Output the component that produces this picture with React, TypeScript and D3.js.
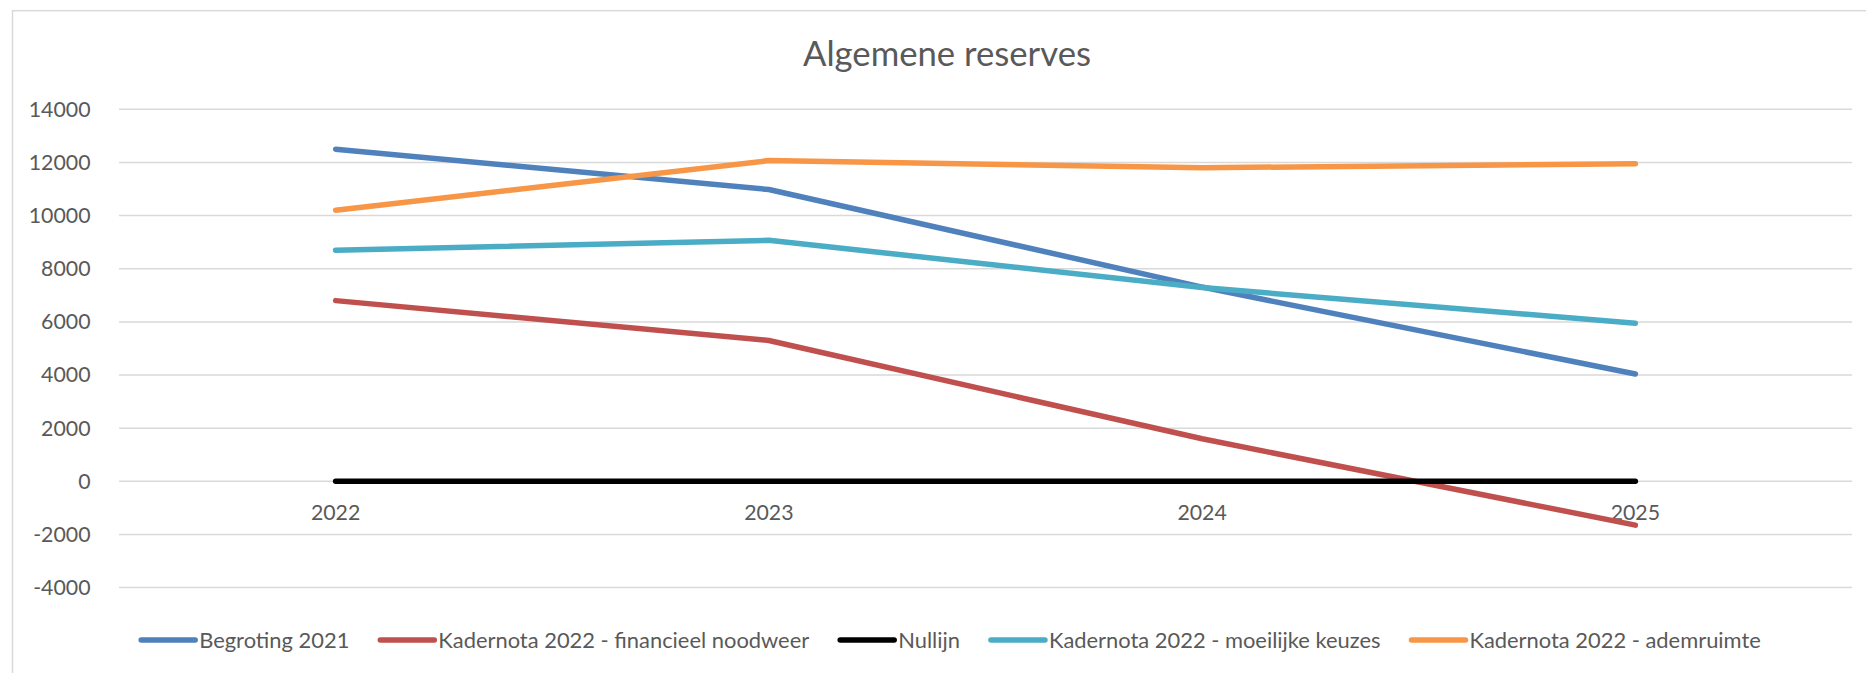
import React from "react";
import * as d3 from "d3";

const years = ["2022", "2023", "2024", "2025"];
const seriesNames = [
  "Begroting 2021",
  "Kadernota 2022 - financieel noodweer",
  "Nullijn",
  "Kadernota 2022 - moeilijke keuzes",
  "Kadernota 2022 - ademruimte",
];
const begroting2021 = [12500, 10980, 7310, 4040];
const noodweer = [6800, 5300, 1600, -1650];
const nullijn = [0, 0, 0, 0];
const moeilijkeKeuzes = [8700, 9070, 7290, 5950];
const ademruimte = [10200, 12070, 11800, 11950];
const yTicks = [-4000, -2000, 0, 2000, 4000, 6000, 8000, 10000, 12000, 14000];
const colors = ["#4F81BD", "#C0504D", "#000000", "#4BACC6", "#F79646"];
const title = "Algemene reserves";

const W = 1866;
const H = 673;
const FONT = "Lato, 'Open Sans', sans-serif";
const TEXT = "#595959";

function measure(text: string, size: number): number {
  const c = document.createElement("canvas");
  const ctx = c.getContext("2d");
  if (!ctx) return text.length * size * 0.5;
  ctx.font = `${size}px Lato`;
  return ctx.measureText(text).width;
}

export default function App() {
  const allSeries = [begroting2021, noodweer, nullijn, moeilijkeKeuzes, ademruimte];
  const plotLeft = 119;
  const plotRight = 1852;
  const x = d3.scaleBand<string>().domain(years).range([plotLeft, plotRight]).padding(0);
  const cx = (yr: string) => (x(yr) as number) + x.bandwidth() / 2;
  const y = d3.scaleLinear().domain([-4000, 14000]).range([587.6, 109.3]);
  const line = d3
    .line<number>()
    .x((_, i) => cx(years[i]))
    .y((d) => y(d));

  const tickSize = 21.3;
  const legendSize = 21.9;
  const swatch = 54;
  const swGap = 4;
  const itemGap = 31;
  const widths = seriesNames.map((n) => measure(n, legendSize));
  const total =
    widths.reduce((a, b) => a + b, 0) + seriesNames.length * (swatch + swGap) + itemGap * (seriesNames.length - 1);
  let lx = 951 - total / 2;
  const legendItems = seriesNames.map((n, i) => {
    const item = { name: n, x: lx, color: colors[i] };
    lx += swatch + swGap + widths[i] + itemGap;
    return item;
  });
  const legendY = 640;

  return (
    <svg
      width={W}
      height={H}
      style={{ position: "absolute", left: 0, top: 0, background: "#fff" }}
      fontFamily={FONT}
    >
      <rect x={0} y={0} width={W} height={H} fill="#fff" />
      <rect x={12.5} y={10.7} width={1870} height={680} fill="#fff" stroke="#D9D9D9" strokeWidth={1.5} />
      <text x={947} y={66} textAnchor="middle" fontSize={34.7} fill={TEXT}>
        {title}
      </text>
      {yTicks.map((t) => (
        <g key={t}>
          <line x1={plotLeft} x2={plotRight} y1={y(t)} y2={y(t)} stroke="#D9D9D9" strokeWidth={1.5} />
          <text x={90.5} y={y(t)} dy="0.35em" textAnchor="end" fontSize={tickSize} fill={TEXT}>
            {t}
          </text>
        </g>
      ))}
      {years.map((yr) => (
        <text key={yr} x={cx(yr)} y={y(0)} dy={39} textAnchor="middle" fontSize={tickSize} fill={TEXT}>
          {yr}
        </text>
      ))}
      {allSeries.map((s, i) => (
        <path
          key={seriesNames[i]}
          d={line(s) || ""}
          fill="none"
          stroke={colors[i]}
          strokeWidth={5.5}
          strokeLinecap="round"
          strokeLinejoin="round"
        />
      ))}
      {legendItems.map((it) => (
        <g key={it.name}>
          <line
            x1={it.x}
            x2={it.x + swatch}
            y1={legendY}
            y2={legendY}
            stroke={it.color}
            strokeWidth={5.5}
            strokeLinecap="round"
          />
          <text x={it.x + swatch + swGap} y={legendY} dy="0.35em" fontSize={legendSize} fill={TEXT}>
            {it.name}
          </text>
        </g>
      ))}
    </svg>
  );
}
